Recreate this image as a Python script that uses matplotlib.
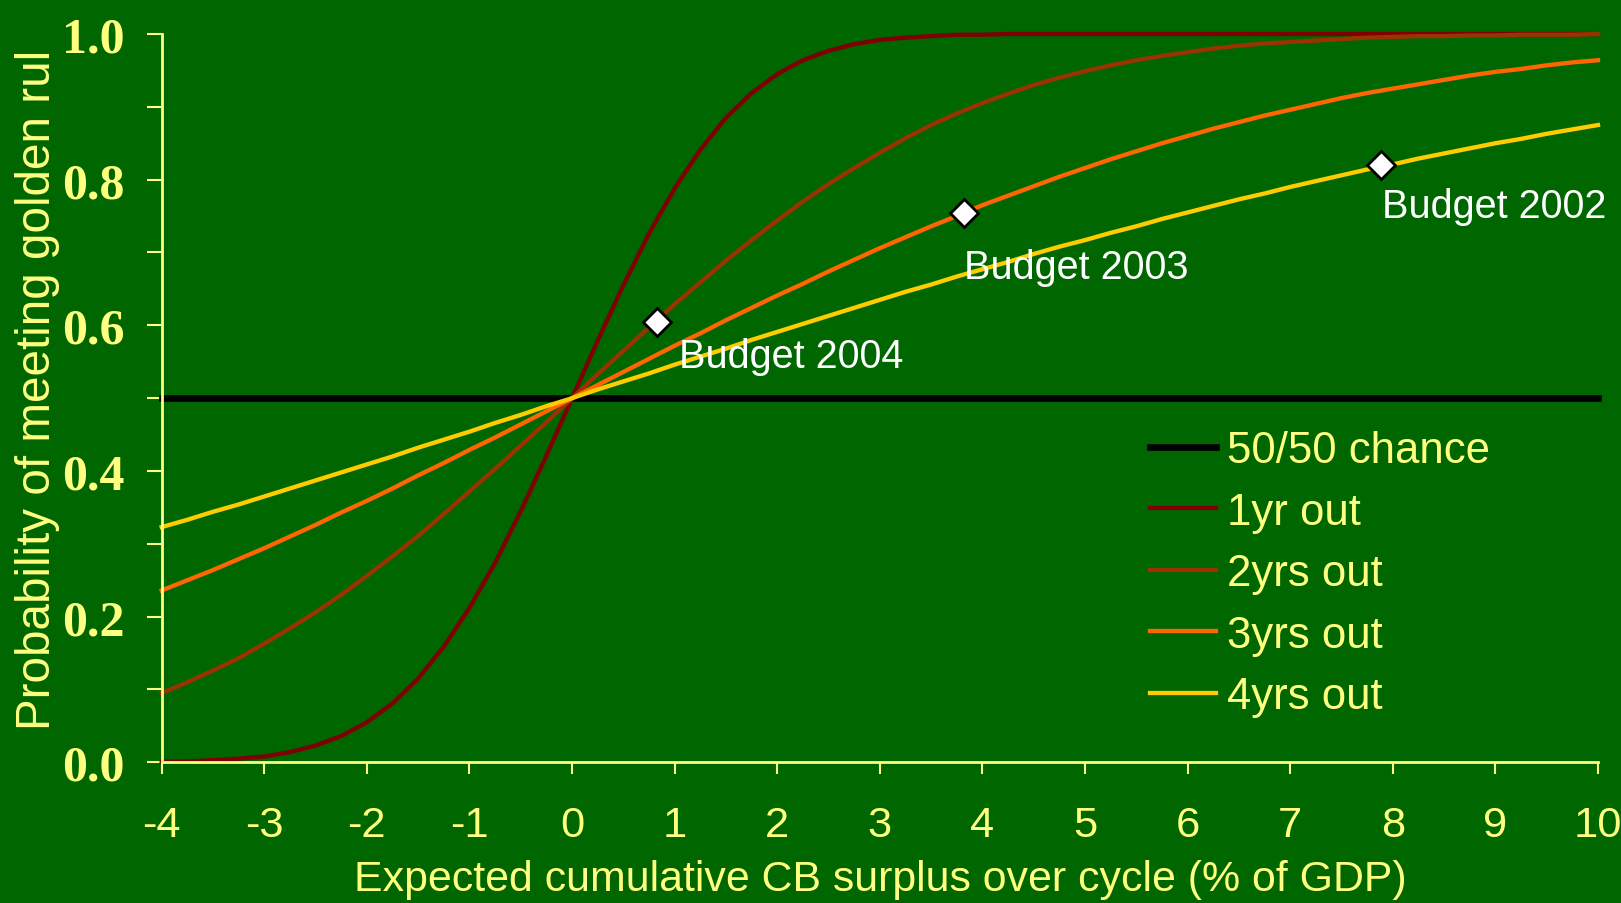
import matplotlib
matplotlib.use("Agg")
import matplotlib.pyplot as plt
from matplotlib import font_manager
from matplotlib.ticker import MultipleLocator, FormatStrFormatter
from matplotlib.transforms import Bbox, TransformedBbox

plt.rcParams["axes.unicode_minus"] = False

# surplus grid (% of GDP) and probability of meeting the golden rule
surplus = [-4, -3.75, -3.5, -3.25, -3, -2.75, -2.5, -2.25, -2, -1.75, -1.5, -1.25,
           -1, -0.75, -0.5, -0.25, 0, 0.25, 0.5, 0.75, 1, 1.25, 1.5, 1.75, 2, 2.25,
           2.5, 2.75, 3, 3.25, 3.5, 3.75, 4, 4.25, 4.5, 4.75, 5, 5.25, 5.5, 5.75,
           6, 6.25, 6.5, 6.75, 7, 7.25, 7.5, 7.75, 8, 8.25, 8.5, 8.75, 9, 9.25,
           9.5, 9.75, 10]
p_1yr = [0.001, 0.001, 0.003, 0.005, 0.008, 0.014, 0.023, 0.036, 0.055, 0.081,
         0.115, 0.159, 0.212, 0.274, 0.345, 0.421, 0.500, 0.579, 0.655, 0.726,
         0.788, 0.841, 0.885, 0.919, 0.945, 0.964, 0.977, 0.986, 0.992, 0.995,
         0.997, 0.999, 0.999, 1.000, 1.000, 1.000, 1.000, 1.000, 1.000, 1.000,
         1.000, 1.000, 1.000, 1.000, 1.000, 1.000, 1.000, 1.000, 1.000, 1.000,
         1.000, 1.000, 1.000, 1.000, 1.000, 1.000, 1.000]
p_2yrs = [0.095, 0.110, 0.126, 0.143, 0.163, 0.184, 0.206, 0.230, 0.256, 0.283,
          0.311, 0.341, 0.372, 0.403, 0.435, 0.467, 0.500, 0.533, 0.565, 0.597,
          0.629, 0.659, 0.689, 0.717, 0.744, 0.770, 0.794, 0.816, 0.837, 0.857,
          0.875, 0.891, 0.905, 0.918, 0.930, 0.940, 0.949, 0.957, 0.964, 0.970,
          0.975, 0.980, 0.984, 0.987, 0.989, 0.991, 0.993, 0.995, 0.996, 0.997,
          0.997, 0.998, 0.998, 0.999, 0.999, 0.999, 1.000]
p_3yrs = [0.236, 0.250, 0.264, 0.279, 0.294, 0.310, 0.326, 0.343, 0.359, 0.376,
          0.394, 0.411, 0.429, 0.446, 0.464, 0.482, 0.500, 0.518, 0.536, 0.554,
          0.572, 0.589, 0.607, 0.624, 0.641, 0.657, 0.674, 0.690, 0.706, 0.721,
          0.736, 0.750, 0.765, 0.778, 0.791, 0.804, 0.816, 0.828, 0.839, 0.850,
          0.860, 0.870, 0.879, 0.888, 0.896, 0.904, 0.912, 0.919, 0.925, 0.931,
          0.937, 0.943, 0.948, 0.952, 0.957, 0.961, 0.964]
p_4yrs = [0.323, 0.333, 0.344, 0.354, 0.365, 0.376, 0.387, 0.398, 0.409, 0.420,
          0.432, 0.443, 0.454, 0.466, 0.477, 0.489, 0.500, 0.512, 0.523, 0.534,
          0.546, 0.557, 0.568, 0.580, 0.591, 0.602, 0.613, 0.624, 0.635, 0.646,
          0.656, 0.667, 0.677, 0.687, 0.698, 0.708, 0.717, 0.727, 0.736, 0.746,
          0.755, 0.764, 0.773, 0.781, 0.790, 0.798, 0.806, 0.814, 0.821, 0.829,
          0.836, 0.843, 0.850, 0.856, 0.863, 0.869, 0.875]
chance = 0.5

budgets = ["Budget 2004", "Budget 2003", "Budget 2002"]
budget_x = [0.83, 3.82, 7.88]
budget_y = [0.605, 0.754, 0.820]
budget_offsets = [(22, -45), (0, -65), (1, -52)]

BG = "#006600"
YEL = "#FFFF80"

names = {f.name for f in font_manager.fontManager.ttflist}
NARROW = "Liberation Sans Narrow" if "Liberation Sans Narrow" in names else "Liberation Sans"
NSCALE = 1.0 if NARROW == "Liberation Sans Narrow" else 0.87

fig = plt.figure(figsize=(16.21, 9.04), dpi=100, facecolor=BG)
ax = fig.add_axes([0.09975, 0.15564, 0.88606, 0.80564], facecolor=BG)

ax.plot([surplus[0], surplus[-1]], [chance, chance], color="black", lw=4.8, label="50/50 chance", clip_on=False)
ax.plot(surplus, p_1yr, color="#7F0000", lw=3.1, label="1yr out", clip_on=False)
ax.plot(surplus, p_2yrs, color="#993300", lw=3.1, label="2yrs out", clip_on=False)
ax.plot(surplus, p_3yrs, color="#FF6600", lw=3.1, label="3yrs out", clip_on=False)
ax.plot(surplus, p_4yrs, color="#FFCC00", lw=3.1, label="4yrs out", clip_on=False)

ax.plot(budget_x, budget_y, "D", ms=14, mfc="white", mec="black", mew=2, ls="none", zorder=5, clip_on=False)
for name, bx, by, off in zip(budgets, budget_x, budget_y, budget_offsets):
    ax.annotate(name, (bx, by), xytext=off, textcoords="offset pixels", color="white",
                fontsize=28.5, family="Liberation Sans", ha="left", va="baseline")

ax.set_xlim(-4, 10)
ax.set_ylim(0, 1)
ax.xaxis.set_major_locator(MultipleLocator(1))
ax.yaxis.set_major_locator(MultipleLocator(0.2))
ax.yaxis.set_minor_locator(MultipleLocator(0.1))
ax.yaxis.set_major_formatter(FormatStrFormatter("%.1f"))

for s in ("top", "right"):
    ax.spines[s].set_visible(False)
for s in ("left", "bottom"):
    ax.spines[s].set_color(YEL)
    ax.spines[s].set_linewidth(2)

ax.tick_params(axis="y", which="both", direction="out", length=10.8, width=1.5, color=YEL, pad=16)
ax.tick_params(axis="x", direction="out", length=8.6, width=1.5, color=YEL, pad=22)
for lab in ax.get_yticklabels():
    lab.set_fontfamily("Liberation Serif")
    lab.set_fontweight("bold")
    lab.set_fontsize(36)
    lab.set_color(YEL)
for lab in ax.get_xticklabels():
    lab.set_fontfamily(NARROW)
    lab.set_fontsize(36 * NSCALE)
    lab.set_color(YEL)

ax.set_xlabel("Expected cumulative CB surplus over cycle (% of GDP)", family=NARROW,
              fontsize=35.5 * NSCALE, color=YEL, labelpad=10)

# y title runs off the top of the slide area
ylab = fig.text(15 / 1621, 1 - 730 / 904, "Probability of meeting golden rule", rotation=90,
                family="Liberation Sans", fontsize=34.3, color=YEL, ha="left", va="bottom")
ylab.set_clip_box(TransformedBbox(Bbox([[0, 0], [1, 1 - 53 / 904]]), fig.transFigure))
ylab.set_clip_on(True)

leg = ax.legend(loc="upper left", bbox_to_anchor=(1150 / 1621, 1 - 431 / 904),
                bbox_transform=fig.transFigure, frameon=False,
                prop={"family": "Liberation Sans", "size": 31.5},
                handlelength=1.5, handletextpad=0.25, labelspacing=0.47, borderpad=0,
                borderaxespad=0)
for t in leg.get_texts():
    t.set_color(YEL)

fig.savefig("out.png", dpi=100, facecolor=BG)
